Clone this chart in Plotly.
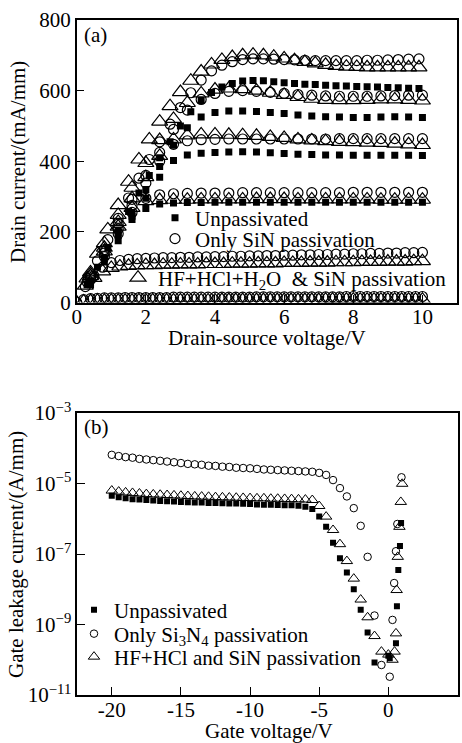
import plotly.graph_objects as go

FONT = "Liberation Serif, Times New Roman, serif"
W, H = 462, 743

# ---------------- Panel (a): drain current vs drain-source voltage ----------------
VDS_03 = [0.3, 0.6, 0.9, 1.2, 1.5, 1.8, 2.1, 2.4, 2.7, 3.0, 3.3, 3.6, 3.9, 4.2, 4.5, 4.8, 5.1,
          5.4, 5.7, 6.0, 6.3, 6.6, 6.9, 7.2, 7.5, 7.8, 8.1, 8.4, 8.7, 9.0, 9.3, 9.6, 9.9]
VDS_04 = [0.4, 0.8, 1.2, 1.6, 2.0, 2.4, 2.8, 3.2, 3.6, 4.0, 4.4, 4.8, 5.2, 5.6, 6.0, 6.4, 6.8,
          7.2, 7.6, 8.0, 8.4, 8.8, 9.2, 9.6, 10.0]
VDS_025 = [0.25, 0.5, 0.75, 1.0, 1.25, 1.5, 1.75, 2.0, 2.25, 2.5, 2.75, 3.0, 3.25, 3.5, 3.75,
           4.0, 4.25, 4.5, 4.75, 5.0, 5.25, 5.5, 5.75, 6.0, 6.25, 6.5, 6.75, 7.0, 7.25, 7.5,
           7.75, 8.0, 8.25, 8.5, 8.75, 9.0, 9.25, 9.5, 9.75, 10.0]
VDS_02 = [0.0, 0.2, 0.4, 0.6, 0.8, 1.0, 1.2, 1.4, 1.6, 1.8, 2.0, 2.2, 2.4, 2.6, 2.8, 3.0, 3.2,
          3.4, 3.6, 3.8, 4.0, 4.2, 4.4, 4.6, 4.8, 5.0, 5.2, 5.4, 5.6, 5.8, 6.0, 6.2, 6.4, 6.6,
          6.8, 7.0, 7.2, 7.4, 7.6, 7.8, 8.0, 8.2, 8.4, 8.6, 8.8, 9.0, 9.2, 9.4, 9.6, 9.8, 10.0]
VDS_TICKS = [0, 2, 4, 6, 8, 10]
ID_TICKS = [0, 200, 400, 600, 800]

# Unpassivated (filled squares)
UNP_1 = [50, 100, 155, 205, 258, 310, 360, 410, 455, 500, 540, 572, 595, 610, 620, 627, 629,
         628, 625, 622, 620, 618, 617, 615, 614, 613, 612, 611, 610, 609, 608, 607, 606]
UNP_2 = [60, 125, 190, 255, 320, 385, 445, 495, 525, 538, 542, 542, 541, 538, 535, 531, 528,
         526, 525, 524, 524, 525, 526, 525, 524]
UNP_3 = [55, 115, 175, 235, 295, 355, 402, 418, 423, 425, 426, 427, 426, 424, 422, 420, 419,
         418, 418, 417, 417, 417, 417, 417, 416]
UNP_4 = [50, 125, 198, 244, 266, 279, 282, 283, 283, 284, 284, 284, 284, 284, 284, 284, 284,
         284, 284, 284, 284, 284, 284, 284, 284]

# Only SiN passivation (open circles)
SIN_1 = [58, 118, 178, 238, 296, 352, 405, 455, 505, 552, 594, 630, 656, 672, 682, 688, 690,
         690, 689, 688, 687, 686, 685, 685, 685, 685, 685, 686, 686, 687, 688, 689, 690]
SIN_2 = [75, 150, 222, 292, 360, 425, 490, 545, 575, 592, 598, 600, 598, 595, 592, 589, 587,
         585, 584, 584, 584, 585, 586, 587, 587]
SIN_3 = [70, 140, 208, 275, 338, 400, 448, 458, 461, 462, 463, 463, 463, 463, 463, 463, 463,
         463, 464, 464, 464, 464, 464, 464, 464]
SIN_4 = [65, 130, 195, 255, 295, 305, 308, 309, 310, 310, 310, 311, 311, 311, 311, 311, 311,
         311, 311, 312, 312, 312, 312, 312, 312]
SIN_5 = [45, 75, 100, 113, 119, 122, 124, 125, 126, 127, 127, 128, 128, 129, 129, 130, 130,
         131, 131, 132, 132, 133, 133, 134, 134, 135, 135, 136, 136, 137, 137, 138, 138, 139,
         139, 140, 140, 141, 141, 142]
SIN_6 = [0, 8, 11, 12, 13, 13, 13, 14, 14, 14, 14, 14, 14, 14, 15, 15, 15, 15, 15, 15, 15, 15,
         15, 15, 15, 15, 16, 16, 16, 16, 16, 16, 16, 16, 16, 16, 16, 16, 16, 17, 17, 17, 17, 17,
         17, 17, 17, 17, 17, 17, 17]

# HF+HCl+H2O & SiN passivation (open triangles)
HF_1 = [68, 138, 207, 276, 342, 405, 462, 512, 556, 596, 628, 654, 674, 687, 695, 700, 702,
        700, 696, 691, 686, 681, 677, 673, 670, 668, 667, 666, 666, 666, 666, 666, 666]
HF_2 = [85, 168, 248, 325, 395, 460, 520, 565, 592, 603, 606, 604, 600, 594, 588, 582, 577,
        574, 573, 573, 574, 575, 575, 574, 572]
HF_3 = [80, 155, 228, 295, 355, 415, 462, 473, 476, 476, 475, 474, 472, 469, 466, 462, 459,
        457, 455, 454, 453, 452, 450, 448, 446]
HF_4 = [75, 145, 215, 268, 287, 290, 291, 291, 292, 292, 292, 292, 293, 293, 293, 292, 292,
        292, 292, 292, 292, 291, 291, 291, 291]
HF_5 = [48, 70, 88, 98, 102, 104, 105, 106, 106, 107, 107, 108, 108, 108, 109, 109, 109, 110,
        110, 110, 111, 111, 111, 112, 112, 112, 113, 113, 113, 114, 114, 114, 115, 115, 115,
        116, 116, 116, 117, 117]
HF_6 = [0, 3, 4, 5, 5, 5, 5, 5, 5, 6, 6, 6, 6, 6, 6, 6, 6, 6, 6, 6, 6, 7, 7, 7, 7, 7, 7, 7, 7,
        7, 7, 7, 7, 7, 7, 7, 8, 8, 8, 8, 8, 8, 8, 8, 8, 8, 8, 8, 8, 8, 8]

# ---------------- Panel (b): gate leakage current vs gate voltage ----------------
VG_NEG = [-20.0, -19.5, -19.0, -18.5, -18.0, -17.5, -17.0, -16.5, -16.0, -15.5, -15.0, -14.5,
          -14.0, -13.5, -13.0, -12.5, -12.0, -11.5, -11.0, -10.5, -10.0, -9.5, -9.0, -8.5,
          -8.0, -7.5, -7.0, -6.5, -6.0, -5.5, -5.0, -4.5, -4.0, -3.5, -3.0, -2.5, -2.0, -1.5,
          -1.0, -0.5]
VG_UNP_POS = [0.0, 0.1, 0.55, 0.62, 0.72, 0.84, 0.92]
VG_SIN_POS = [0.1, 0.3, 0.42, 0.55, 0.65, 0.95]
VG_HF_POS = [0.0, 0.3, 0.45, 0.55, 0.6, 0.68, 0.8, 0.9, 1.0]
VG_TICKS = [-20, -15, -10, -5, 0, 5]
VG_TICKTEXT = ["-20", "-15", "-10", "-5", "0", "5"]

IG_UNP = [4.5e-6, 4.1e-6, 3.8e-6, 3.6e-6, 3.5e-6, 3.4e-6, 3.3e-6, 3.2e-6, 3.15e-6, 3.1e-6,
          3.0e-6, 2.95e-6, 2.9e-6, 2.9e-6, 2.8e-6, 2.8e-6, 2.75e-6, 2.7e-6, 2.7e-6, 2.65e-6,
          2.6e-6, 2.55e-6, 2.5e-6, 2.5e-6, 2.45e-6, 2.4e-6, 2.4e-6, 2.35e-6, 2.2e-6, 1.9e-6,
          1.15e-6, 5.9e-7, 2.1e-7, 7.6e-8, 3.0e-8, 1.0e-8, 2.6e-9, 5.9e-10, 8.3e-11]
IG_UNP_POS = [1.3e-10, 1.1e-10, 2.95e-10, 3.3e-9, 3.5e-8, 1.7e-7, 7.6e-7]
IG_SIN = [6.5e-5, 6.0e-5, 5.6e-5, 5.4e-5, 5.0e-5, 4.8e-5, 4.6e-5, 4.4e-5, 4.2e-5, 4.0e-5,
          3.8e-5, 3.6e-5, 3.5e-5, 3.4e-5, 3.2e-5, 3.15e-5, 3.0e-5, 2.95e-5, 2.8e-5, 2.75e-5,
          2.7e-5, 2.6e-5, 2.5e-5, 2.45e-5, 2.4e-5, 2.35e-5, 2.3e-5, 2.25e-5, 2.2e-5, 2.15e-5,
          2.0e-5, 1.75e-5, 1.25e-5, 7.4e-6, 4.3e-6, 2.0e-6, 6.3e-7, 8.3e-8, 1.8e-9, 7.1e-11]
IG_SIN_POS = [3.3e-11, 1.35e-9, 1.5e-8, 1.2e-7, 7.1e-7, 1.5e-5]
IG_HF = [6.3e-6, 5.9e-6, 5.6e-6, 5.4e-6, 5.2e-6, 5.0e-6, 4.9e-6, 4.8e-6, 4.7e-6, 4.6e-6,
         4.5e-6, 4.4e-6, 4.3e-6, 4.25e-6, 4.2e-6, 4.1e-6, 4.05e-6, 4.0e-6, 3.95e-6, 3.9e-6,
         3.85e-6, 3.8e-6, 3.8e-6, 3.7e-6, 3.7e-6, 3.65e-6, 3.6e-6, 3.55e-6, 3.5e-6, 3.4e-6,
         2.3e-6, 1.15e-6, 4.8e-7, 1.9e-7, 6.3e-8, 2.0e-8, 5.1e-9, 1.6e-9, 4.7e-10, 1.7e-10]
IG_HF_POS = [1.4e-10, 1.0e-10, 1.7e-10, 5.6e-10, 9.5e-9, 8.3e-8, 5.9e-7, 3.0e-6, 9.8e-6]

LOG_TICKS = [1e-3, 1e-5, 1e-7, 1e-9, 1e-11]
LOG_TICKTEXT = ["10<sup>\u22123</sup>", "10<sup>\u22125</sup>", "10<sup>\u22127</sup>",
                "10<sup>\u22129</sup>", "10<sup>\u221211</sup>"]

fig = go.Figure()


def add(x, y, symbol, size, lw, xa, ya, name=None, legend=None):
    fig.add_trace(go.Scatter(
        x=x, y=y, mode="markers", xaxis=xa, yaxis=ya,
        marker=dict(symbol=symbol, size=size, color="black",
                    line=dict(color="black", width=lw)),
        name=name if name else "", legend=legend if legend else "legend",
        showlegend=name is not None, hoverinfo="skip"))


# panel (a)
add(VDS_02, SIN_6, "circle-open", 10, 1.2, "x", "y")
add(VDS_025, SIN_5, "circle-open", 10, 1.2, "x", "y")
add(VDS_04, SIN_4, "circle-open", 10, 1.2, "x", "y")
add(VDS_04, SIN_3, "circle-open", 10, 1.2, "x", "y")
add(VDS_04, SIN_2, "circle-open", 10, 1.2, "x", "y")
add(VDS_03, SIN_1, "circle-open", 10, 1.2, "x", "y", "Only SiN passivation", "legend2")
add(VDS_02, HF_6, "triangle-up-open", 14, 1.2, "x", "y")
add(VDS_025, HF_5, "triangle-up-open", 14, 1.2, "x", "y")
add(VDS_04, HF_4, "triangle-up-open", 14, 1.2, "x", "y")
add(VDS_04, HF_3, "triangle-up-open", 14, 1.2, "x", "y")
add(VDS_04, HF_2, "triangle-up-open", 14, 1.2, "x", "y")
add(VDS_03, HF_1, "triangle-up-open", 14, 1.2, "x", "y",
    "HF+HCl+H<sub>2</sub>O  & SiN passivation", "legend3")
add(VDS_04, UNP_4, "square", 7, 0, "x", "y")
add(VDS_04, UNP_3, "square", 7, 0, "x", "y")
add(VDS_04, UNP_2, "square", 7, 0, "x", "y")
add(VDS_03, UNP_1, "square", 7, 0, "x", "y", "Unpassivated", "legend")

# panel (b)
add(VG_NEG + VG_SIN_POS, IG_SIN + IG_SIN_POS, "circle-open", 7.5, 1.0, "x2", "y2",
    "Only Si<sub>3</sub>N<sub>4</sub> passivation", "legend5")
add(VG_NEG + VG_HF_POS, IG_HF + IG_HF_POS, "triangle-up-open", 10, 1.0, "x2", "y2",
    "HF+HCl and SiN passivation", "legend6")
add(VG_NEG[:-1] + VG_UNP_POS, IG_UNP + IG_UNP_POS, "square", 6, 0, "x2", "y2",
    "Unpassivated", "legend4")

axis_common = dict(showline=True, linecolor="black", linewidth=1.5, mirror=True,
                   ticks="inside", ticklen=8, tickwidth=1.2, tickcolor="black",
                   showgrid=False, zeroline=False, automargin=False,
                   tickfont=dict(family=FONT, size=21, color="black"))

fig.update_layout(
    width=W, height=H, margin=dict(l=0, r=0, t=0, b=0),
    paper_bgcolor="white", plot_bgcolor="white", template="none",
    font=dict(family=FONT, size=21, color="black"),
    xaxis=dict(domain=[76.7 / W, 457 / W], range=[0, 11], tickvals=VDS_TICKS, anchor="y",
               ticklabelstandoff=-5, **axis_common),
    yaxis=dict(domain=[1 - 302.5 / H, 1 - 20 / H], range=[0, 800], tickvals=ID_TICKS,
               anchor="x", **axis_common),
    xaxis2=dict(domain=[77.2 / W, 457.5 / W], range=[-22.5, 5], tickvals=VG_TICKS,
                ticktext=VG_TICKTEXT, anchor="y2", ticklabelstandoff=-5, **axis_common),
    yaxis2=dict(domain=[1 - 695 / H, 1 - 413 / H], type="log", range=[-11, -3],
                tickvals=LOG_TICKS, ticktext=LOG_TICKTEXT, anchor="x2", **axis_common),
)

leg_common = dict(xanchor="left", yanchor="middle", bgcolor="rgba(0,0,0,0)", borderwidth=0,
                  font=dict(family=FONT, size=21, color="black"), itemwidth=30,
                  tracegroupgap=0)
fig.update_layout(
    legend=dict(x=155 / W, y=1 - 218 / H, **leg_common),
    legend2=dict(x=155 / W, y=1 - 239 / H, **leg_common),
    legend3=dict(x=118 / W, y=1 - 278 / H, **leg_common),
    legend4=dict(x=74 / W, y=1 - 610 / H, **leg_common),
    legend5=dict(x=74 / W, y=1 - 634 / H, **leg_common),
    legend6=dict(x=74 / W, y=1 - 657 / H, **leg_common),
)

ann = [
    dict(text="(a)", x=82 / W, y=1 - 35 / H, xanchor="left", yanchor="middle"),
    dict(text="(b)", x=82 / W, y=1 - 427 / H, xanchor="left", yanchor="middle"),
    dict(text="Drain current/(mA/mm)", x=18 / W, y=1 - 162 / H, textangle=-90,
         xanchor="center", yanchor="middle"),
    dict(text="Drain-source voltage/V", x=267 / W, y=1 - 338 / H, xanchor="center",
         yanchor="middle"),
    dict(text="Gate leakage current/(A/mm)", x=16 / W, y=1 - 555 / H, textangle=-90,
         xanchor="center", yanchor="middle"),
    dict(text="Gate voltage/V", x=269 / W, y=1 - 731 / H, xanchor="center",
         yanchor="middle"),
]
for a in ann:
    fig.add_annotation(xref="paper", yref="paper", showarrow=False,
                       font=dict(family=FONT, size=21, color="black"), **a)

fig.write_html("out.html")
